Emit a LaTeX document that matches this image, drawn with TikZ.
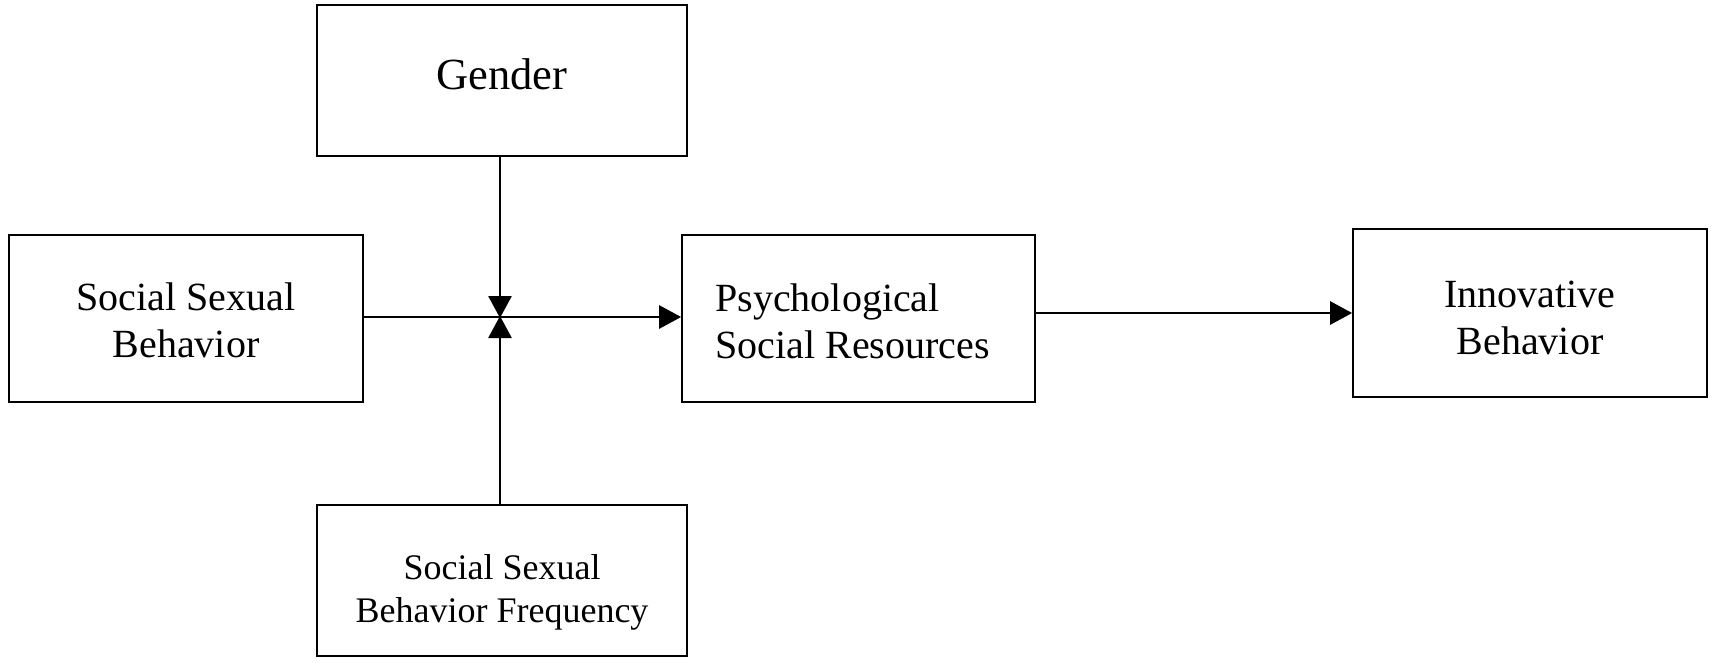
\documentclass[tikz,border=0pt]{standalone}
\usepackage{fontspec}
\setmainfont{Liberation Serif}
\usetikzlibrary{arrows.meta}
\begin{document}
\begin{tikzpicture}[x=1pt,y=-1pt,
  boxstyle/.style={draw=black, line width=1.7pt, rectangle, inner sep=0pt, align=center},
  textstyle/.style={inner sep=0pt, align=center, font=\fontsize{40}{47}\selectfont},
  conn/.style={line width=2.8pt, -{Triangle[length=22pt,width=23pt]}}]
\useasboundingbox (0,0) rectangle (1712,662);
\node[boxstyle, minimum width=370pt, minimum height=151pt] (gender) at (502,80.5) {};
\node[textstyle, font=\fontsize{44.5}{52}\selectfont] (gendert) at ([yshift=6.5pt]gender.center) {Gender};
\node[boxstyle, minimum width=354pt, minimum height=167pt] (ssb) at (186,318.5) {};
\node[textstyle] (ssbt) at ([yshift=-2pt]ssb.center) {Social Sexual\\Behavior};
\node[boxstyle, minimum width=353pt, minimum height=167pt] (psr) at (858.5,318.5) {};
\node[textstyle, align=left] (psrt) at ([yshift=-3pt,xshift=-6pt]psr.center) {Psychological\\Social Resources};
\node[boxstyle, minimum width=354pt, minimum height=168pt] (ib) at (1530,313) {};
\node[textstyle] (ibt) at ([yshift=-5pt]ib.center) {Innovative\\Behavior};
\node[boxstyle, minimum width=370pt, minimum height=151pt] (ssbf) at (502,580.5) {};
\node[textstyle, font=\fontsize{36}{43}\selectfont] (ssbft) at ([yshift=-12pt]ssbf.center) {Social Sexual\\Behavior Frequency};
\coordinate (j) at (500,317);
\draw[conn] (ssb.east |- j) -- (psr.west |- j);
\draw[conn] (j |- gender.south) -- ([yshift=-1pt]j);
\draw[conn] (j |- ssbf.north) -- ([yshift=1pt]j);
\draw[conn] (psr.east |- ib.west) -- (ib.west);
\end{tikzpicture}
\end{document}
